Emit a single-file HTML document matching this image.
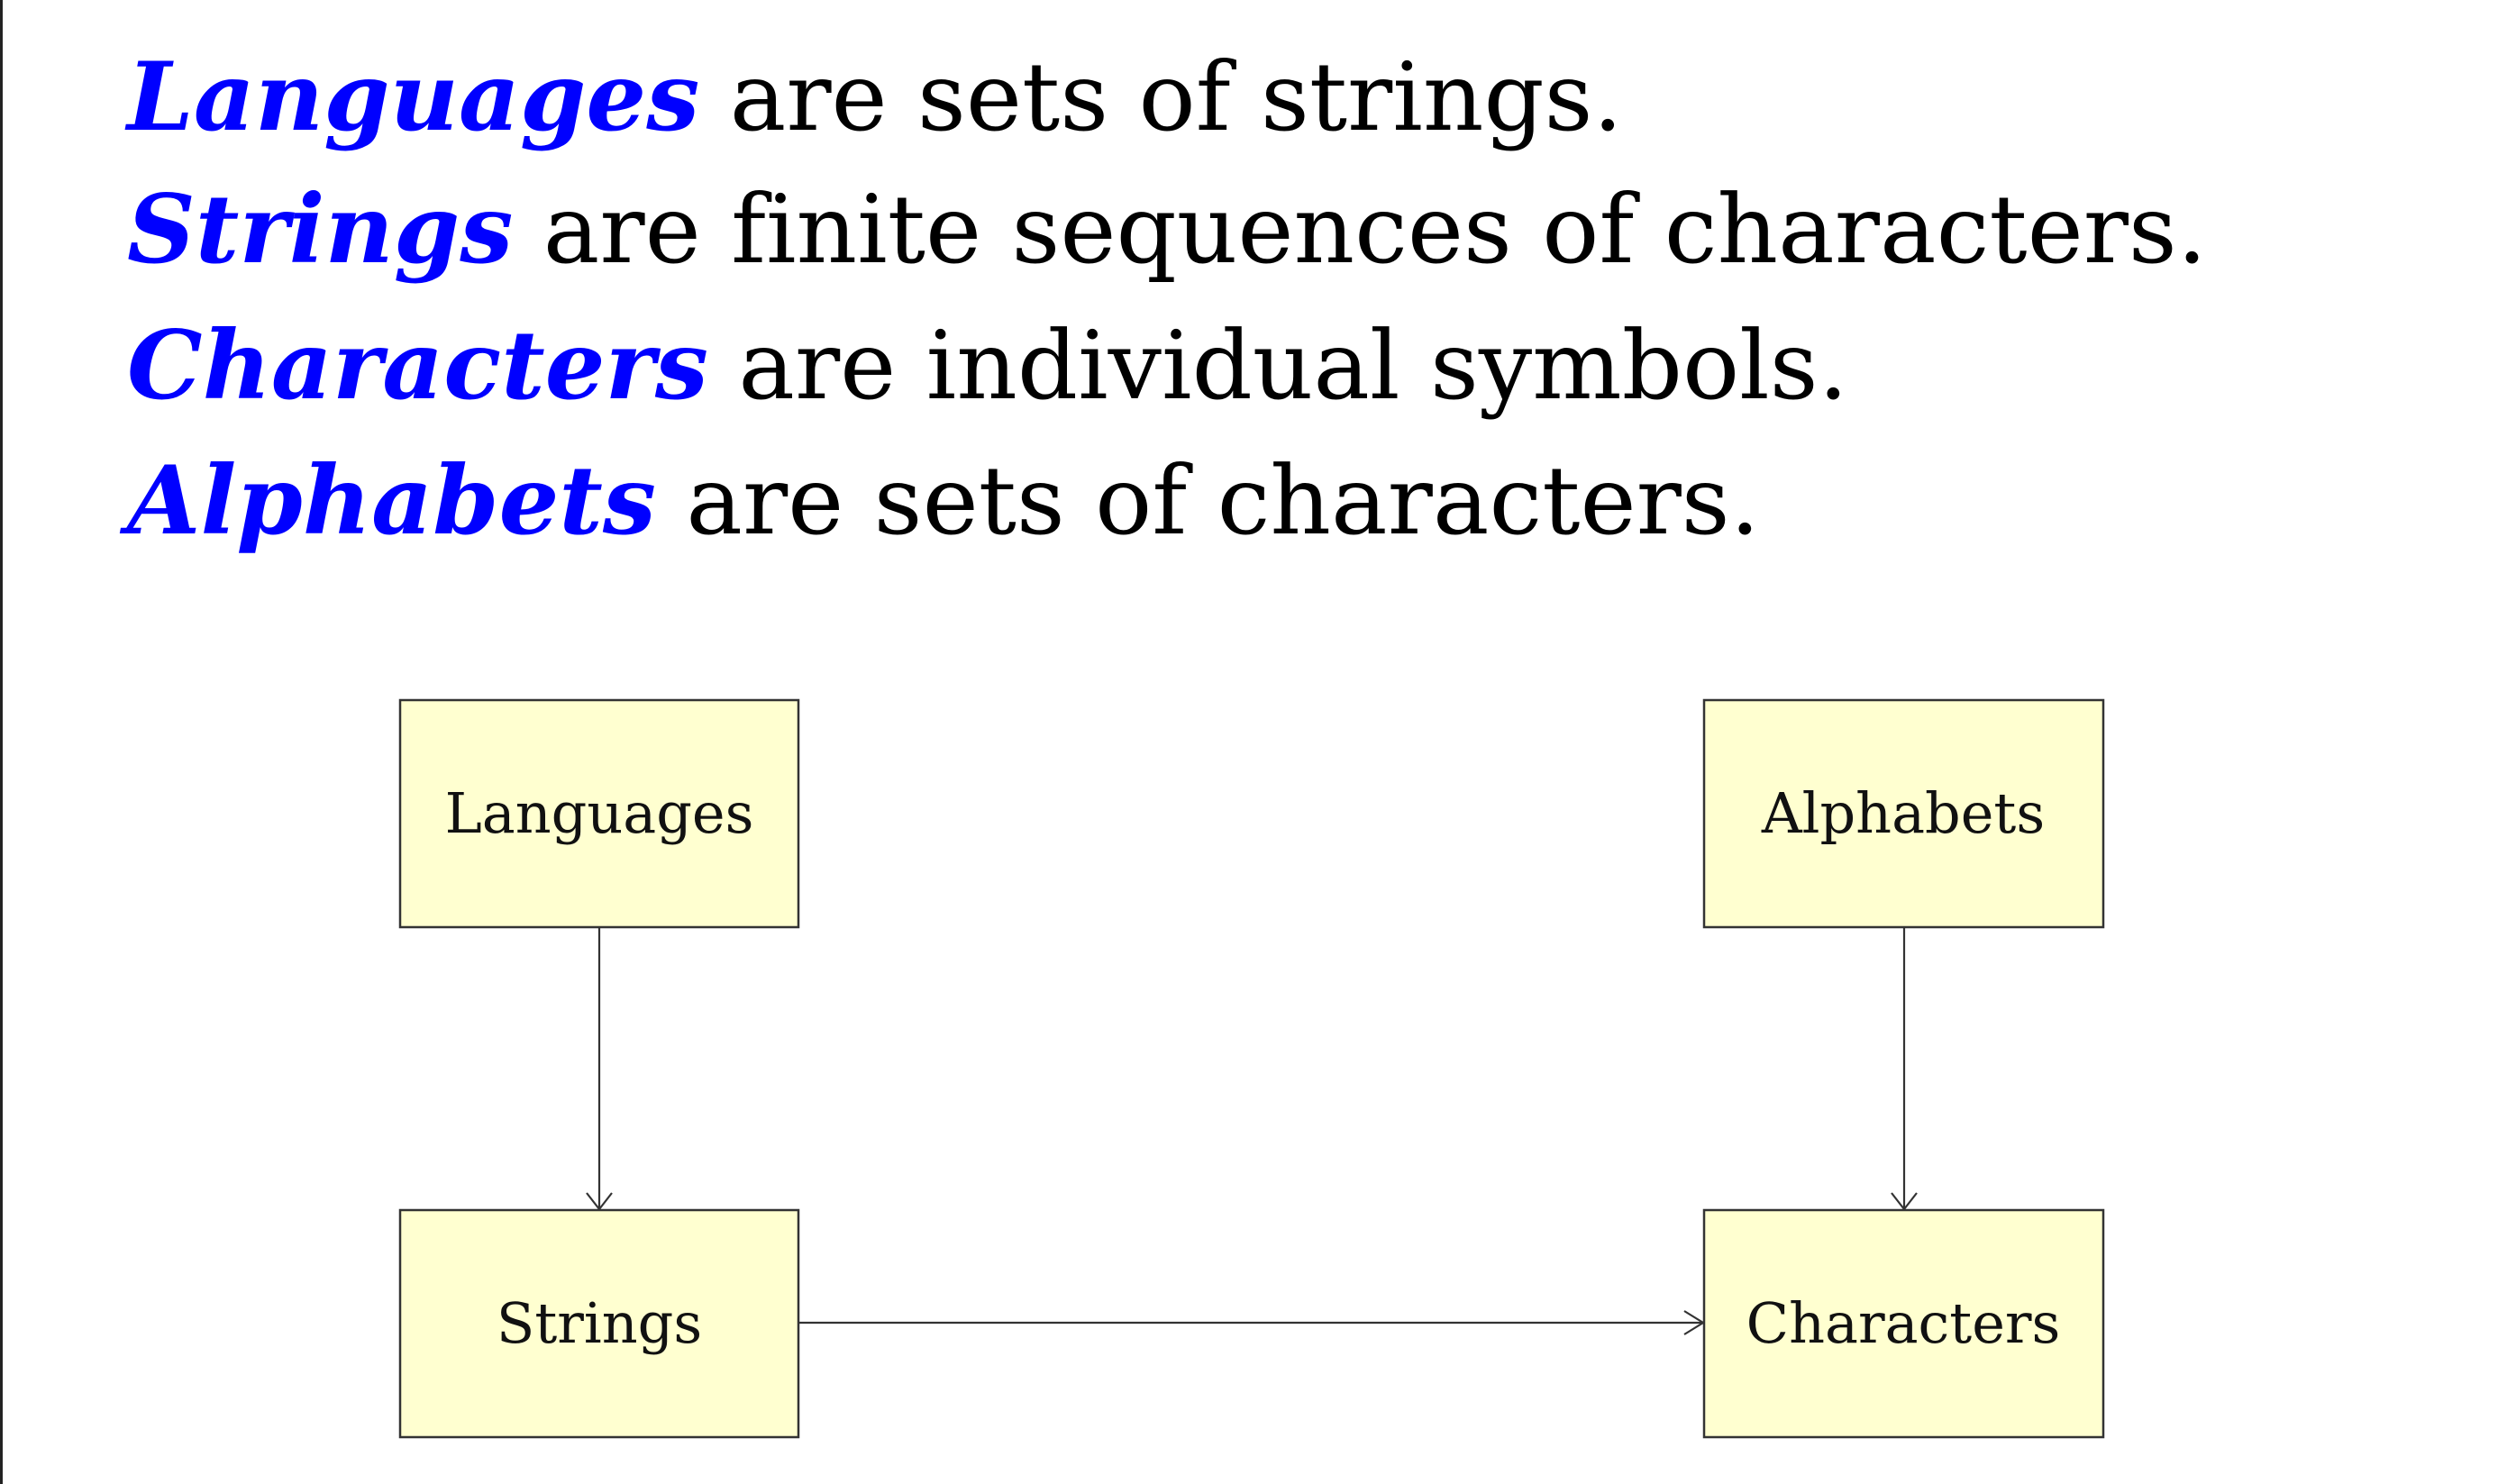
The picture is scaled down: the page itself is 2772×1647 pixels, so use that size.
<!DOCTYPE html>
<html><head><meta charset="utf-8"><style>
html,body{margin:0;padding:0;background:#fff;width:2772px;height:1647px;overflow:hidden}
svg{display:block}
</style></head><body>
<svg width="2772" height="1647" viewBox="0 0 2772 1647" xmlns="http://www.w3.org/2000/svg">
<rect x="0" y="0" width="2772" height="1647" fill="#fff"/>
<rect x="0" y="0" width="3" height="1647" fill="#222"/>
<g font-family="'DejaVu Serif','Liberation Serif',serif" font-size="105" fill="#000" style="font-variant-ligatures:none">
<text x="141" y="144"><tspan fill="#0000ff" font-weight="bold" font-style="italic">Languages</tspan> are sets of strings.</text>
<text x="141" y="291"><tspan fill="#0000ff" font-weight="bold" font-style="italic">Strings</tspan> are finite sequences of characters.</text>
<text x="141" y="442"><tspan fill="#0000ff" font-weight="bold" font-style="italic">Characters</tspan> are individual symbols.</text>
<text x="141" y="592"><tspan fill="#0000ff" font-weight="bold" font-style="italic">Alphabets</tspan> are sets of characters.</text>
</g>
<g fill="#ffffd0" stroke="#333" stroke-width="2.5">
<rect x="444" y="777" width="442" height="252"/>
<rect x="1891" y="777" width="443" height="252"/>
<rect x="444" y="1343" width="442" height="252"/>
<rect x="1891" y="1343" width="443" height="252"/>
</g>
<g stroke="#333" stroke-width="2.2" fill="none">
<line x1="665" y1="1029" x2="665" y2="1342"/>
<polyline points="651,1324 665,1342 679,1324"/>
<line x1="2113" y1="1029" x2="2113" y2="1342"/>
<polyline points="2099,1324 2113,1342 2127,1324"/>
<line x1="886" y1="1468" x2="1890" y2="1468"/>
<polyline points="1869,1455 1890,1468 1869,1481"/>
</g>
<g font-family="'DejaVu Serif','Liberation Serif',serif" font-size="62" fill="#111" text-anchor="middle">
<text x="665" y="924">Languages</text>
<text x="2112" y="924">Alphabets</text>
<text x="665" y="1490">Strings</text>
<text x="2112" y="1490">Characters</text>
</g>
</svg>
</body></html>
